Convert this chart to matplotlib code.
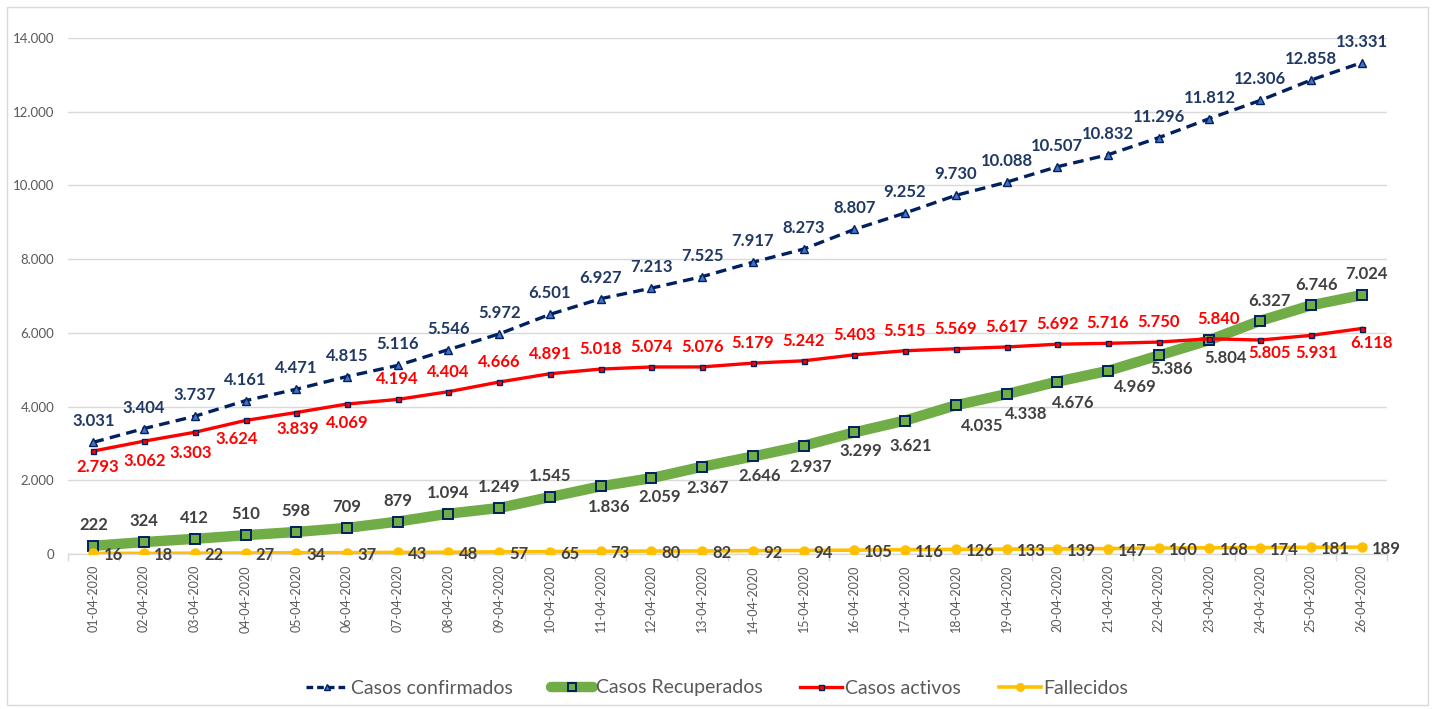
import matplotlib
matplotlib.use("Agg")
import matplotlib.pyplot as plt
from matplotlib.patches import Rectangle
from matplotlib.lines import Line2D
import numpy as np

plt.rcParams['font.family'] = ['Lato', 'DejaVu Sans']

dates = [f"{d:02d}-04-2020" for d in range(1, 27)]
confirmados = [3031, 3404, 3737, 4161, 4471, 4815, 5116, 5546, 5972, 6501, 6927, 7213, 7525,
               7917, 8273, 8807, 9252, 9730, 10088, 10507, 10832, 11296, 11812, 12306, 12858, 13331]
recuperados = [222, 324, 412, 510, 598, 709, 879, 1094, 1249, 1545, 1836, 2059, 2367,
               2646, 2937, 3299, 3621, 4035, 4338, 4676, 4969, 5386, 5804, 6327, 6746, 7024]
activos = [2793, 3062, 3303, 3624, 3839, 4069, 4194, 4404, 4666, 4891, 5018, 5074, 5076,
           5179, 5242, 5403, 5515, 5569, 5617, 5692, 5716, 5750, 5840, 5805, 5931, 6118]
fallecidos = [16, 18, 22, 27, 34, 37, 43, 48, 57, 65, 73, 80, 82,
              92, 94, 105, 116, 126, 133, 139, 147, 160, 168, 174, 181, 189]
yticks = [0, 2000, 4000, 6000, 8000, 10000, 12000, 14000]

# label offsets in pixels (dx, dy)
off_conf = [(0, 21)] * 26
off_act = [(4, -16), (1, -20), (-4, -21), (-9, -19), (1, -16), (0, -19)] + [(0, 20)] * 16 + \
          [(9, 20), (9, -13), (6, -18), (10, -14)]
off_rec = [(0, 21)] * 10 + [(8, -21), (8, -19), (5, -21), (7, -20), (7, -21), (6, -19), (6, -25),
                            (26, -21), (20, -20), (16, -21), (27, -16), (13, -14), (16, -18),
                            (9, 20), (6, 20), (5, 21)]
off_fal = [(10, -2)] * 26

NAVY = '#002060'
GREEN = '#70AD47'
RED = '#FF0000'
GOLD = '#FFC000'
LBL_GRAY = '#404040'
AX_GRAY = '#595959'
GRID = '#D9D9D9'

def fmt(v):
    return f"{v:,}".replace(',', '.')

W, H = 1435, 709
fig = plt.figure(figsize=(W / 100, H / 100), dpi=100)
ax = fig.add_axes([68 / W, (H - 554) / H, (1387 - 68) / W, (554 - 38) / H])

x = np.arange(len(dates))

ax.plot(x, confirmados, color=NAVY, lw=2.4, ls=(0, (3.2, 1.9)), marker='^', ms=6,
        mfc='#4472C4', mec=NAVY, mew=1.0, zorder=3, label='Casos confirmados')
ax.plot(x, recuperados, color=GREEN, lw=7.5, marker='s', ms=7, mfc=GREEN, mec=NAVY,
        mew=1.4, zorder=4, label='Casos Recuperados', solid_capstyle='round')
ax.plot(x, activos, color=RED, lw=2.4, marker='s', ms=3.6, mfc=RED, mec=NAVY,
        mew=1.0, zorder=5, label='Casos activos')
ax.plot(x, fallecidos, color=GOLD, lw=2.6, marker='o', ms=6.5, mfc=GOLD, mec=GOLD,
        zorder=6, label='Fallecidos')

def labels(vals, offs, color, ha='center'):
    for i, (v, (dx, dy)) in enumerate(zip(vals, offs)):
        ax.annotate(fmt(v), (x[i], v), xytext=(dx, dy), textcoords='offset pixels',
                    ha=ha, va='center', fontsize=12, fontweight='bold', color=color,
                    zorder=10, annotation_clip=False)

labels(confirmados, off_conf, '#1F3864')
labels(recuperados, off_rec, LBL_GRAY)
labels(activos, off_act, RED)
labels(fallecidos, off_fal, LBL_GRAY, ha='left')

ax.set_xlim(-0.5, len(dates) - 0.5)
ax.set_ylim(0, 14000)
ax.set_yticks(yticks)
ax.set_yticklabels([fmt(v) for v in yticks])
ax.set_xticks(x)
ax.set_xticklabels(dates, rotation=90)
ax.set_xticks(np.arange(-0.5, len(dates), 1), minor=True)
ax.tick_params(axis='x', which='major', length=0, pad=8, labelsize=9, labelcolor=AX_GRAY)
ax.tick_params(axis='x', which='minor', length=5, color=GRID, width=1)
ax.tick_params(axis='y', length=0, pad=10, labelsize=9.5, labelcolor=AX_GRAY)
ax.grid(axis='y', color=GRID, lw=1)
ax.set_axisbelow(True)
for s in ['left', 'right', 'top']:
    ax.spines[s].set_visible(False)
ax.spines['bottom'].set_color(GRID)
ax.spines['bottom'].set_linewidth(1)

fig.patches.append(Rectangle((7 / W, 4 / H), (1428 - 7) / W, (702 - 4) / H, transform=fig.transFigure,
                             fill=False, edgecolor=GRID, lw=1))

handles = [
    Line2D([], [], color=NAVY, lw=2.4, ls=(0, (2.0, 1.2)), marker='^', ms=5, mfc='#4472C4', mec=NAVY),
    Line2D([], [], color=GREEN, lw=7.5, marker='s', ms=6, mfc=GREEN, mec=NAVY, mew=1.4,
           solid_capstyle='round'),
    Line2D([], [], color=RED, lw=2.4, marker='s', ms=3.6, mfc=RED, mec=NAVY),
    Line2D([], [], color=GOLD, lw=2.6, marker='o', ms=5.5, mfc=GOLD, mec=GOLD),
]
leg = fig.legend(handles, ['Casos confirmados', 'Casos Recuperados', 'Casos activos', 'Fallecidos'],
                 loc='center', bbox_to_anchor=(0.5, (H - 688) / H), ncol=4, frameon=False,
                 fontsize=14, handlelength=2.15, handletextpad=0.15, columnspacing=1.95)
for t in leg.get_texts():
    t.set_color(AX_GRAY)

fig.savefig('out.png', dpi=100)
